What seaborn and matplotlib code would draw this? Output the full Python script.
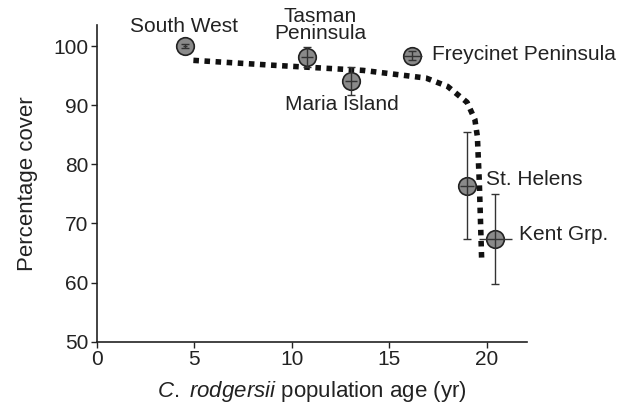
import matplotlib
matplotlib.use("Agg")
import matplotlib.pyplot as plt
import seaborn as sns
import pandas as pd

sites = ["South West", "Tasman\nPeninsula", "Maria Island", "Freycinet Peninsula", "St. Helens", "Kent Grp."]
age = [4.55, 10.8, 13.05, 16.2, 19.0, 20.45]
cover = [100.0, 98.2, 94.1, 98.4, 76.4, 67.4]
cover_err = [0.3, 1.7, 2.3, 0.8, 9.0, 7.6]
age_err = [0.1, 0.3, 0.3, 0.5, 0.35, 0.85]

fit_age = [4.96, 8.9, 13.67, 16.9, 18.0, 19.0, 19.4, 19.53, 19.63, 19.75]
fit_cover = [97.6, 96.8, 95.9, 94.6, 93.2, 90.5, 87.6, 84.7, 76.9, 63.8]

sns.set_theme(style="ticks")
plt.rcParams['font.family'] = ['Liberation Sans', 'DejaVu Sans']
plt.rcParams['mathtext.fontset'] = 'custom'
plt.rcParams['mathtext.rm'] = 'Liberation Sans'
plt.rcParams['mathtext.it'] = 'Liberation Sans:italic'

fig = plt.figure(figsize=(6.28, 4.08), dpi=100)
ax = fig.add_axes([0.154, 0.1625, 0.685, 0.7765])

fit = pd.DataFrame({"age": fit_age, "cover": fit_cover})
sns.lineplot(data=fit, x="age", y="cover", ax=ax, color="#111111",
             linewidth=4, linestyle=(0, (1, 1)), sort=False, zorder=2)

pts = pd.DataFrame({"age": age, "cover": cover, "site": sites})
sns.scatterplot(data=pts, x="age", y="cover", ax=ax, s=160, color="#8a8a8a",
                edgecolor="#222222", linewidth=1.2, zorder=3)
ax.errorbar(age, cover, yerr=cover_err, fmt="none",
            ecolor="#333333", elinewidth=1.0, capsize=3, capthick=1.0, zorder=4)
ax.errorbar(age, cover, xerr=age_err, fmt="none",
            ecolor="#333333", elinewidth=1.0, capsize=0, zorder=4)

labels = [
    ("South West", 4.48, 103.3, "center"),
    ("Tasman\nPeninsula", 11.45, 103.6, "center"),
    ("Maria Island", 12.6, 90.1, "center"),
    ("Freycinet Peninsula", 17.18, 98.6, "left"),
    ("St. Helens", 19.96, 77.4, "left"),
    ("Kent Grp.", 21.67, 68.1, "left"),
]
for txt, x, y, ha in labels:
    ax.text(x, y, txt, ha=ha, va="center", fontsize=15, color="#222222",
            linespacing=0.82, clip_on=False)

ax.set_xlim(0, 22.07)
ax.set_ylim(50, 103.6)
ax.set_xticks([0, 5, 10, 15, 20])
ax.set_yticks([50, 60, 70, 80, 90, 100])
ax.tick_params(labelsize=15, length=4, width=1, colors="#222222", pad=2)
ax.set_xlabel(r"$\it{C.}$ $\it{rodgersii}$ population age (yr)", fontsize=16,
              color="#222222", labelpad=7)
ax.set_ylabel("Percentage cover", fontsize=16, color="#222222")
ax.yaxis.set_label_coords(-0.136, 0.5)
for s in ["top", "right"]:
    ax.spines[s].set_visible(False)
for s in ["left", "bottom"]:
    ax.spines[s].set_color("#222222")
    ax.spines[s].set_linewidth(1.2)

fig.savefig("out.png", dpi=100)
